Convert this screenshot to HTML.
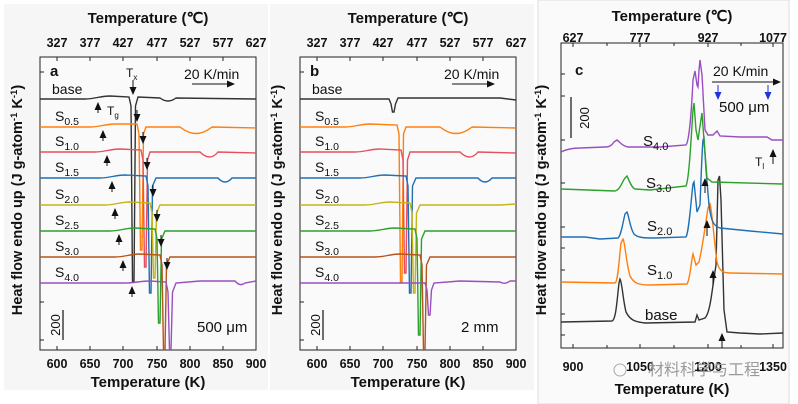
<!DOCTYPE html>
<html><head><meta charset="utf-8"><style>
html,body{margin:0;padding:0;background:#fff}
svg{display:block}
text{font-family:"Liberation Sans",Arial,sans-serif;fill:#111}
.b{font-weight:bold}
.ar path{stroke:#111;stroke-width:1;fill:none;marker-end:url(#ah)}
</style></head><body>
<svg width="798" height="404" viewBox="0 0 798 404" xmlns="http://www.w3.org/2000/svg">
<defs>
<clipPath id="ca"><rect x="40" y="57" width="216" height="293"/></clipPath>
<clipPath id="cb"><rect x="300" y="57" width="216" height="293"/></clipPath>
<clipPath id="cc"><rect x="561" y="43" width="222" height="305"/></clipPath>
<marker id="ah" markerUnits="userSpaceOnUse" markerWidth="8" markerHeight="8" refX="7" refY="4" orient="auto"><path d="M0,0.5 L8,4 L0,7.5 z" fill="#111"/></marker>
<marker id="ab" markerUnits="userSpaceOnUse" markerWidth="8" markerHeight="8" refX="7" refY="4" orient="auto"><path d="M0,0.5 L8,4 L0,7.5 z" fill="#2233dd"/></marker>
</defs>
<rect x="4" y="4" width="264" height="386" fill="#f6f6f6"/>
<rect x="270" y="4" width="264" height="386" fill="#f6f6f6"/>
<rect x="538" y="0" width="251" height="404" fill="#fafafa" stroke="#ddd"/>
<!-- Panel a -->
<rect x="40" y="57" width="216" height="293" fill="#fafafa" stroke="#222" stroke-width="1"/>
<text x="148" y="23" text-anchor="middle" class="b" font-size="15">Temperature (℃)</text>
<g font-size="12.5" class="b" text-anchor="middle">
<text x="57" y="47">327</text><text x="90" y="47">377</text><text x="123" y="47">427</text><text x="157" y="47">477</text><text x="190" y="47">527</text><text x="223" y="47">577</text><text x="256" y="47">627</text>
<text x="57" y="368">600</text><text x="90" y="368">650</text><text x="123" y="368">700</text><text x="157" y="368">750</text><text x="190" y="368">800</text><text x="223" y="368">850</text><text x="256" y="368">900</text>
</g>
<text x="148" y="387" text-anchor="middle" class="b" font-size="15">Temperature (K)</text>
<text transform="translate(22,200) rotate(-90)" text-anchor="middle" class="b" font-size="14.5">Heat flow endo up (J g-atom<tspan font-size="9.5" dy="-5">-1</tspan><tspan dy="5"> K</tspan><tspan font-size="9.5" dy="-5">-1</tspan><tspan dy="5">)</tspan></text>
<g stroke="#222" stroke-width="1">
<path d="M57,350v-4M90,350v-4M123,350v-4M157,350v-4M190,350v-4M223,350v-4M57,57v4M90,57v4M123,57v4M157,57v4M190,57v4M223,57v4M40,72h4M40,302h4M40,340h4"/>
</g>
<g clip-path="url(#ca)" fill="none" stroke-width="1.4">
<path stroke="#333" d="M40,99 L85,99 C95,99 100,96 110,96 L129,97 L131,106 L132.5,282 L134,282 L135.5,106 L138,97 L160,98 Q168,104 176,98 L256,99"/>
<path stroke="#ff7f0e" d="M40,127 L90,127 C100,127 105,124 115,124 L137,124 L139,134 L140.5,250 L142,250 L143.5,134 L146,127 L180,127 Q196,140 212,127 L256,128"/>
<path stroke="#e55060" d="M40,152 L95,152 C105,152 110,149 120,149 L141,150 L143,160 L144.5,267 L146,267 L147.5,160 L150,152 L200,152 Q210,162 218,152 L256,153"/>
<path stroke="#1f6fb4" d="M40,178 L100,178 C110,178 115,175 125,175 L146,176 L148,186 L149.5,293 L151,293 L152.5,186 L156,178 L218,178 Q225,186 232,178 L256,178"/>
<path stroke="#c4b418" d="M40,205 L105,205 C115,205 120,202 130,202 L150,203 L152,213 L153.5,278 L155,278 L156.5,213 L160,205 L256,205"/>
<path stroke="#2ca02c" d="M40,231 L110,231 C120,231 125,228 135,228 L155,229 L157,239 L158.5,323 L160,323 L161.5,239 L165,231 L256,231"/>
<path stroke="#b5541c" d="M40,257 L115,257 C125,257 130,254 140,254 L160,255 L162,265 L163.5,350 L165,350 L166.5,265 L170,257 L256,257"/>
<path stroke="#9a4fc0" d="M40,283 L125,283 C135,283 140,281 150,281 L166,282 L168,292 L169.5,350 L171,350 L172.5,292 L176,283 L200,281 L235,281 Q240,287 245,283 L256,281"/>
</g>
<g class="ar">
<path d="M98,113V103"/><path d="M103,141V131"/><path d="M107,166V156"/><path d="M112,192V182"/><path d="M115,219V209"/><path d="M119,245V235"/><path d="M123,271V261"/><path d="M132,297V287"/>
<path d="M133,80V94"/><path d="M137,110V121"/><path d="M143,132V143"/><path d="M147,158V169"/><path d="M153,185V196"/><path d="M157,210V221"/><path d="M161,235V246"/><path d="M167,258V269"/>
<path d="M192,84H234"/>
</g>
<text x="50" y="76" class="b" font-size="15">a</text>
<text x="126" y="77" font-size="12">T<tspan font-size="8" dy="3">x</tspan></text>
<text x="107" y="115" font-size="12">T<tspan font-size="8" dy="3">g</tspan></text>
<text x="184" y="79" font-size="14">20 K/min</text>
<text x="197" y="332" font-size="15">500 μm</text>
<g font-size="14">
<text x="52" y="94">base</text>
<text x="55" y="121">S<tspan font-size="10.5" dy="4">0.5</tspan></text>
<text x="55" y="146">S<tspan font-size="10.5" dy="4">1.0</tspan></text>
<text x="55" y="172">S<tspan font-size="10.5" dy="4">1.5</tspan></text>
<text x="55" y="199">S<tspan font-size="10.5" dy="4">2.0</tspan></text>
<text x="55" y="225">S<tspan font-size="10.5" dy="4">2.5</tspan></text>
<text x="55" y="251">S<tspan font-size="10.5" dy="4">3.0</tspan></text>
<text x="55" y="277">S<tspan font-size="10.5" dy="4">4.0</tspan></text>
</g>
<path d="M63,310V340" stroke="#111" stroke-width="1.2"/>
<text transform="translate(60,325) rotate(-90)" text-anchor="middle" font-size="13">200</text>

<!-- Panel b -->
<rect x="300" y="57" width="216" height="293" fill="#fafafa" stroke="#222" stroke-width="1"/>
<text x="408" y="23" text-anchor="middle" class="b" font-size="15">Temperature (℃)</text>
<g font-size="12.5" class="b" text-anchor="middle">
<text x="317" y="47">327</text><text x="350" y="47">377</text><text x="383" y="47">427</text><text x="417" y="47">477</text><text x="450" y="47">527</text><text x="483" y="47">577</text><text x="516" y="47">627</text>
<text x="317" y="368">600</text><text x="350" y="368">650</text><text x="383" y="368">700</text><text x="417" y="368">750</text><text x="450" y="368">800</text><text x="483" y="368">850</text><text x="516" y="368">900</text>
</g>
<text x="408" y="387" text-anchor="middle" class="b" font-size="15">Temperature (K)</text>
<text transform="translate(282,200) rotate(-90)" text-anchor="middle" class="b" font-size="14.5">Heat flow endo up (J g-atom<tspan font-size="9.5" dy="-5">-1</tspan><tspan dy="5"> K</tspan><tspan font-size="9.5" dy="-5">-1</tspan><tspan dy="5">)</tspan></text>
<g stroke="#222" stroke-width="1">
<path d="M317,350v-4M350,350v-4M383,350v-4M417,350v-4M450,350v-4M483,350v-4M317,57v4M350,57v4M383,57v4M417,57v4M450,57v4M483,57v4M300,72h4M300,302h4M300,340h4"/>
</g>
<g clip-path="url(#cb)" fill="none" stroke-width="1.4">
<path stroke="#333" d="M300,99 L385,99 L389,99 L391,104 L392.5,112 L394,112 L395.5,104 L398,98 L500,98 L516,100"/>
<path stroke="#ff7f0e" d="M300,127 L345,127 C355,127 360,124 370,124 L397,125 L399,134 L400.5,282 L402,282 L403.5,134 L406,127 L440,127 Q456,140 472,127 L516,128"/>
<path stroke="#e55060" d="M300,152 L355,152 C365,152 370,149 380,149 L401,150 L403,160 L404.5,273 L406,273 L407.5,160 L410,152 L460,152 Q470,162 478,152 L516,153"/>
<path stroke="#1f6fb4" d="M300,178 L360,178 C370,178 375,175 385,175 L406,176 L408,186 L409.5,293 L411,293 L412.5,186 L416,178 L478,178 Q485,186 492,178 L516,178"/>
<path stroke="#c4b418" d="M300,205 L365,205 C375,205 380,202 390,202 L410,203 L412,213 L413.5,293 L415,293 L416.5,213 L420,205 L500,205 L516,204"/>
<path stroke="#2ca02c" d="M300,231 L370,231 C380,231 385,228 395,228 L415,229 L417,239 L418.5,335 L420,335 L421.5,239 L425,231 L516,231"/>
<path stroke="#b5541c" d="M300,257 L375,257 C385,257 390,254 400,254 L420,255 L422,265 L423.5,350 L425,350 L426.5,265 L430,257 L516,257"/>
<path stroke="#9a4fc0" d="M300,283 L425,283 L427,290 L428.5,315 L430,315 L431.5,290 L434,283 L460,281 L500,282 Q505,285 510,281 L516,281"/>
</g>
<g class="ar"><path d="M452,84H494"/></g>
<text x="310" y="76" class="b" font-size="15">b</text>
<text x="444" y="79" font-size="14">20 K/min</text>
<text x="461" y="332" font-size="15">2 mm</text>
<g font-size="14">
<text x="312" y="94">base</text>
<text x="315" y="121">S<tspan font-size="10.5" dy="4">0.5</tspan></text>
<text x="315" y="146">S<tspan font-size="10.5" dy="4">1.0</tspan></text>
<text x="315" y="172">S<tspan font-size="10.5" dy="4">1.5</tspan></text>
<text x="315" y="199">S<tspan font-size="10.5" dy="4">2.0</tspan></text>
<text x="315" y="225">S<tspan font-size="10.5" dy="4">2.5</tspan></text>
<text x="315" y="251">S<tspan font-size="10.5" dy="4">3.0</tspan></text>
<text x="315" y="277">S<tspan font-size="10.5" dy="4">4.0</tspan></text>
</g>
<path d="M323,310V340" stroke="#111" stroke-width="1.2"/>
<text transform="translate(320,325) rotate(-90)" text-anchor="middle" font-size="13">200</text>

<!-- Panel c -->
<rect x="561" y="43" width="222" height="305" fill="#fafafa" stroke="#222" stroke-width="1"/>
<text x="672" y="21" text-anchor="middle" class="b" font-size="15">Temperature (℃)</text>
<g font-size="12.5" class="b" text-anchor="middle">
<text x="573" y="42">627</text><text x="640" y="42">777</text><text x="708" y="42">927</text><text x="773" y="42">1077</text>
<text x="573" y="371">900</text><text x="640" y="371">1050</text><text x="708" y="371">1200</text><text x="773" y="371">1350</text>
</g>
<text x="672" y="394" text-anchor="middle" class="b" font-size="15">Temperature (K)</text>
<text transform="translate(546,200) rotate(-90)" text-anchor="middle" class="b" font-size="14.5">Heat flow endo up (J g-atom<tspan font-size="9.5" dy="-5">-1</tspan><tspan dy="5"> K</tspan><tspan font-size="9.5" dy="-5">-1</tspan><tspan dy="5">)</tspan></text>
<g stroke="#222" stroke-width="1">
<path d="M573,348v-4M607,348v-3M640,348v-4M674,348v-3M708,348v-4M741,348v-3M773,348v-4M573,43v4M607,43v3M640,43v4M674,43v3M708,43v4M741,43v3M773,43v4"/>
<path d="M561,74h4M561,96h4M561,140h4M561,183h4M561,227h4M561,248h4M561,270h4M561,314h4M561,335h4"/>
</g>
<g clip-path="url(#cc)" fill="none" stroke-width="1.4">
<path stroke="#333" d="M561,322 L612,321 C616,320 617,300 619,283 L620,279 C622,282 623,300 626,312 C630,320 635,322 645,323 L695,322 L697,315 L699,320 L705,318 C709,314 711,300 713,285 L716,265 L718,180 L719.5,176 L721,200 L724,310 L727,332 L740,333 L760,334 L783,333"/>
<path stroke="#ff7f0e" d="M561,282 L615,283 C618,282 619,260 621,243 L623,239 C625,242 626,262 630,276 C634,284 640,285 650,285 L687,284 C690,280 691,262 693,254 L696,265 L699,262 C703,245 706,220 708,208 L710,204 C712,210 714,240 717,262 C719,270 722,273 730,273 L783,274"/>
<path stroke="#1f6fb4" d="M561,237 L585,237 L600,239 L618,238 C621,236 623,222 625,214 L627,212 C629,216 630,228 634,234 C638,238 645,238 655,238 L686,237 C689,232 691,200 693,184 L694,182 L697,212 L700,205 C701,180 702,150 703,140 L704,138 L706,170 L709,205 C711,220 713,226 720,228 L750,231 L783,234"/>
<path stroke="#2ca02c" d="M561,189 L615,191 C620,190 622,182 625,178 L627,176 C629,180 631,187 635,189 L650,190 L686,186 C689,180 691,140 693,110 L694,103 L696,130 L698,140 L700,126 L702,113 L704,140 L707,178 L712,182 L783,184"/>
<path stroke="#9a4fc0" d="M561,152 C565,150 570,148 580,148 L605,147 C610,147 612,145 614,142 L617,140 C620,142 622,146 628,147 L660,147 L686,145 C690,140 692,100 693,80 L695,71 L697,85 L698,87 L699,70 L700,60 L702,75 L705,130 L708,135 L713,135 L717,131 L720,136 L740,137 L767,137 L772,140 L783,140"/>
</g>
<g class="ar">
<path d="M712,82H780"/>
<path d="M705,193V179"/><path d="M707,236V221"/><path d="M713,285V271"/><path d="M722,348V334"/><path d="M773,164V150"/>
</g>
<path d="M718,85V99" stroke="#2233dd" stroke-width="1" marker-end="url(#ab)"/>
<path d="M768,85V99" stroke="#2233dd" stroke-width="1" marker-end="url(#ab)"/>
<text x="575" y="75" class="b" font-size="15">c</text>
<text x="713" y="76" font-size="14">20 K/min</text>
<text x="719" y="112" font-size="15">500 μm</text>
<path d="M571,97V138" stroke="#111" stroke-width="1.2"/>
<text transform="translate(589,118) rotate(-90)" text-anchor="middle" font-size="13">200</text>
<text x="755" y="166" font-size="12">T<tspan font-size="8" dy="3">l</tspan></text>
<g font-size="15">
<text x="643" y="146">S<tspan font-size="11" dy="4">4.0</tspan></text>
<text x="646" y="188">S<tspan font-size="11" dy="4">3.0</tspan></text>
<text x="647" y="231">S<tspan font-size="11" dy="4">2.0</tspan></text>
<text x="647" y="275">S<tspan font-size="11" dy="4">1.0</tspan></text>
<text x="645" y="320">base</text>
</g>
<text x="648" y="375" font-size="16" style="fill:#9a9a9a;font-family:'Liberation Sans','Noto Sans CJK SC',sans-serif">材料科学与工程</text>
<circle cx="620" cy="370" r="6" fill="none" stroke="#aaa"/>
</svg>
</body></html>
